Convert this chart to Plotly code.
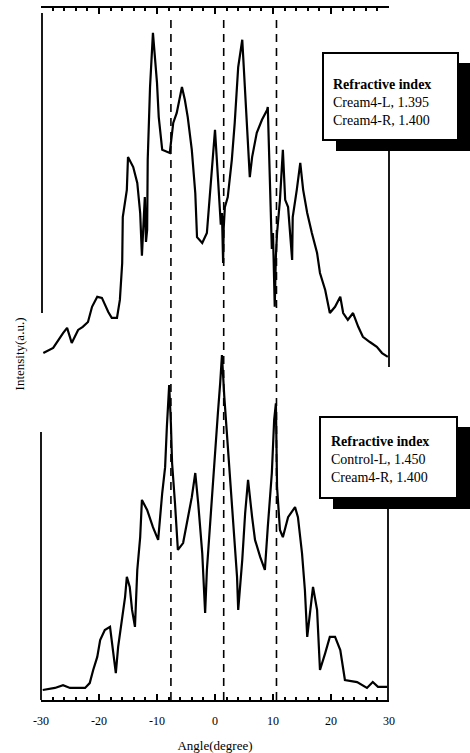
import plotly.graph_objects as go

# Angular scattering profiles (angle in degrees, intensity in a.u.)
angle_top = [-29.6, -27.9, -26.2, -25.5, -24.7, -23.6, -22.8, -21.9, -21.2, -20.3,
             -19.5, -18.4, -17.8, -16.9, -16.4, -16.0, -15.9, -15.2, -15.0, -14.1,
             -13.4, -12.9, -12.6, -12.4, -12.1, -11.9, -11.7, -11.6, -11.2, -10.7,
             -10.3, -10.0, -9.7, -9.1, -7.8, -7.2, -6.6, -5.7, -5.2, -4.7,
             -4.0, -3.4, -3.1, -2.2, -1.4, -0.9, -0.3, 0.0, 0.5, 1.0,
             1.2, 1.4, 1.5, 1.7, 2.2, 2.9, 3.4, 4.0, 4.7, 5.2,
             5.5, 6.0, 6.4, 7.2, 8.1, 9.0, 9.1, 9.5, 9.8, 10.0,
             10.2, 10.3, 10.5, 10.7, 11.2, 11.7, 12.1, 12.6, 13.3, 13.4,
             14.1, 14.7, 15.2, 15.9, 16.7, 17.6, 18.1, 19.0, 19.8, 20.7,
             21.6, 22.1, 22.9, 23.8, 24.7, 25.5, 26.7, 27.9, 28.8, 29.8]
intensity_top = [7.8, 9.3, 13.6, 15.1, 10.7, 14.5, 15.4, 16.8, 21.2, 24.1,
                 23.8, 19.7, 18.0, 18.0, 23.2, 33.9, 47.2, 55.1, 64.6, 61.7,
                 57.1, 48.4, 36.0, 45.0, 53.0, 40.0, 43.5, 63.8, 84.9, 100.6,
                 92.8, 86.1, 76.2, 66.7, 65.8, 74.5, 77.4, 84.9, 81.2, 76.2,
                 66.7, 54.2, 41.4, 39.7, 42.6, 53.0, 63.8, 72.5, 58.8, 45.0,
                 48.4, 33.9, 44.0, 50.1, 53.0, 63.8, 74.5, 90.7, 98.6, 84.1,
                 73.9, 58.8, 64.6, 71.6, 75.4, 78.3, 79.1, 52.2, 38.0, 42.6,
                 30.0, 21.2, 36.0, 42.6, 52.2, 66.7, 52.2, 50.1, 34.8, 47.2,
                 55.1, 62.9, 55.1, 48.4, 42.6, 36.8, 31.0, 26.1, 19.4, 21.2,
                 24.1, 19.4, 17.4, 19.4, 15.4, 12.5, 11.0, 9.6, 7.8, 6.7]

angle_bottom = [-29.7, -27.6, -26.2, -25.0, -22.4, -21.6, -21.0, -20.3, -19.8, -19.0,
                -18.1, -17.6, -17.1, -16.7, -16.0, -15.5, -15.2, -14.7, -14.3, -13.8,
                -13.4, -12.9, -12.6, -11.7, -10.7, -9.8, -9.1, -8.6, -8.3, -7.9,
                -7.6, -7.4, -6.9, -6.4, -5.5, -4.7, -4.0, -3.4, -2.9, -2.2,
                -1.7, -1.4, -0.9, -0.3, 0.0, 0.5, 0.9, 1.2, 1.6, 2.1,
                2.6, 3.1, 3.8, 4.0, 4.7, 5.2, 5.7, 6.4, 6.9, 7.8,
                8.6, 9.1, 9.8, 10.2, 10.5, 10.7, 11.2, 11.7, 12.6, 13.8,
                14.3, 15.0, 15.5, 15.9, 16.4, 16.9, 17.6, 18.1, 19.0, 19.8,
                20.7, 21.6, 22.4, 24.5, 26.2, 27.2, 28.1, 29.7]
intensity_bottom = [2.9, 3.5, 4.3, 3.5, 3.5, 4.9, 8.7, 12.5, 17.4, 20.3,
                    21.2, 13.6, 7.8, 15.4, 24.1, 29.9, 35.7, 32.8, 26.1, 21.2,
                    37.7, 47.2, 58.0, 55.1, 50.1, 46.4, 60.0, 67.5, 79.1, 91.3,
                    80.0, 68.7, 57.1, 43.5, 45.5, 52.2, 58.8, 65.8, 57.1, 42.6,
                    25.2, 37.7, 50.1, 63.8, 73.3, 83.2, 92.0, 100.0, 88.0, 76.2,
                    63.8, 50.1, 35.7, 26.1, 40.6, 54.2, 63.8, 53.0, 46.4, 41.4,
                    37.7, 50.1, 65.8, 81.2, 86.0, 61.7, 49.3, 47.2, 53.0, 55.9,
                    53.0, 42.6, 31.9, 18.3, 26.1, 32.8, 26.1, 8.7, 13.6, 18.3,
                    18.3, 14.5, 5.8, 5.2, 3.5, 5.2, 3.8, 3.8]

# Reference angles marked by dashed guides
ref_angles = [-7.6, 1.5, 10.6]

x_ticks = [-30, -20, -10, 0, 10, 20, 30]

legend_top = ["Refractive index", "Cream4-L, 1.395", "Cream4-R, 1.400"]
legend_bottom = ["Refractive index", "Control-L, 1.450", "Cream4-R, 1.400"]

# Page geometry
W, H = 470, 753
ML, MR, MT, MB = 41, 81, 8, 53
PW, PH = W - ML - MR, H - MT - MB


def px(x):
    return (x - ML) / PW


def py(y):
    return (H - MB - y) / PH


FONT = "Liberation Serif"
INK = "#000000"
LINE = dict(color=INK, width=2.2)

fig = go.Figure()
fig.add_trace(go.Scatter(x=angle_bottom, y=intensity_bottom, mode="lines",
                         line=LINE, yaxis="y", showlegend=False, hoverinfo="skip"))
fig.add_trace(go.Scatter(x=angle_top, y=intensity_top, mode="lines",
                         line=LINE, yaxis="y2", showlegend=False, hoverinfo="skip"))

shapes = []
for a in ref_angles:
    shapes.append(dict(type="line", xref="x", yref="paper", x0=a, x1=a,
                       y0=0, y1=py(16), line=dict(color=INK, width=1.6, dash="8px,6px")))

# partial panel frames
frame = dict(color=INK, width=1.8)
shapes += [
    dict(type="line", xref="paper", yref="paper", x0=px(42), x1=px(42), y0=py(13), y1=py(313), line=frame),
    dict(type="line", xref="paper", yref="paper", x0=px(41), x1=px(41), y0=py(432), y1=py(700), line=frame),
    dict(type="line", xref="paper", yref="paper", x0=px(389), x1=px(389), y0=py(150), y1=py(367), line=frame),
    dict(type="line", xref="paper", yref="paper", x0=px(388), x1=px(388), y0=py(508), y1=py(700), line=frame),
]

annotations = []


def legend_box(x0, y0, x1, y1, lines, text_x, text_y):
    shapes.append(dict(type="rect", xref="paper", yref="paper", layer="above",
                       x0=px(x0 + 13), x1=px(x1 + 16), y0=py(y0 + 10), y1=py(y1 + 11),
                       fillcolor=INK, line=dict(width=0)))
    shapes.append(dict(type="rect", xref="paper", yref="paper", layer="above",
                       x0=px(x0), x1=px(x1), y0=py(y0), y1=py(y1),
                       fillcolor="white", line=dict(color=INK, width=2)))
    text = "<b>" + lines[0] + "</b><br>" + "<br>".join(lines[1:])
    annotations.append(dict(xref="paper", yref="paper", x=px(text_x), y=py(text_y),
                            xanchor="left", yanchor="middle", align="left", showarrow=False,
                            text=text, font=dict(family=FONT, size=14, color=INK)))


legend_box(323, 53, 458, 140, legend_top, 331, 102)
legend_box(320, 417, 457, 498, legend_bottom, 329, 459)

fig.update_layout(
    template="none",
    width=W, height=H,
    margin=dict(l=ML, r=MR, t=MT, b=MB),
    paper_bgcolor="white", plot_bgcolor="white",
    font=dict(family=FONT, color=INK),
    shapes=shapes, annotations=annotations,
    xaxis=dict(range=[-30, 30], tickvals=x_ticks, ticktext=[str(t) for t in x_ticks],
               showline=True, linecolor=INK, linewidth=2, mirror="ticks",
               ticks="inside", ticklen=6, tickwidth=1.5, tickcolor=INK,
               minor=dict(dtick=2, ticks="inside", ticklen=3, tickcolor=INK),
               showgrid=False, zeroline=False, ticklabelstandoff=9,
               tickfont=dict(family=FONT, size=12, color=INK),
               title=dict(text="Angle(degree)", font=dict(family=FONT, size=13, color=INK),
                          standoff=16)),
    yaxis=dict(range=[0, 200.6], showline=False, showticklabels=False, ticks="",
               showgrid=False, zeroline=False,
               title=dict(text="Intensity(a.u.)", font=dict(family=FONT, size=13, color=INK),
                          standoff=12)),
    yaxis2=dict(range=[-92.75, 107.8], overlaying="y", showline=False, showticklabels=False,
                ticks="", showgrid=False, zeroline=False),
)

fig.write_html("out.html")
